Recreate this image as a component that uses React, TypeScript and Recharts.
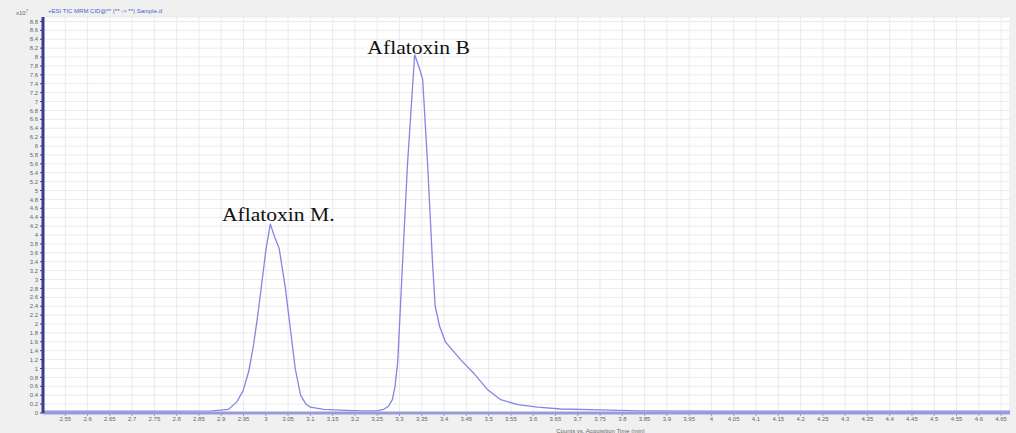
import { CartesianGrid, Label, Line, LineChart, ReferenceDot, XAxis, YAxis } from 'recharts'

// acquisition time (min) and TIC counts (x10^7)
const times = [
  2.5, 2.6, 2.7, 2.8, 2.88, 2.916, 2.935, 2.949, 2.962, 2.972, 2.982, 2.992, 3.0, 3.01, 3.02, 3.03,
  3.044, 3.055, 3.066, 3.078, 3.09, 3.1, 3.13, 3.18, 3.22, 3.25, 3.264, 3.275, 3.284, 3.29, 3.296,
  3.307, 3.318, 3.334, 3.343, 3.352, 3.363, 3.374, 3.38, 3.39, 3.403, 3.437, 3.466, 3.498, 3.527,
  3.565, 3.61, 3.662, 3.75, 3.84, 4.0, 4.2, 4.4, 4.67,
]
const counts = [
  0.04, 0.04, 0.04, 0.04, 0.05, 0.08, 0.25, 0.5, 0.95, 1.5, 2.2, 3.0, 3.65, 4.25, 3.95, 3.7,
  2.8, 1.9, 1.0, 0.4, 0.2, 0.13, 0.08, 0.06, 0.05, 0.05, 0.08, 0.15, 0.3, 0.6, 1.15,
  3.4, 5.6, 8.05, 7.8, 7.5, 5.6, 3.4, 2.4, 1.95, 1.6, 1.2, 0.9, 0.52, 0.3,
  0.19, 0.13, 0.09, 0.07, 0.05, 0.04, 0.04, 0.04, 0.04,
]

const xTicks = [
  2.55, 2.6, 2.65, 2.7, 2.75, 2.8, 2.85, 2.9, 2.95, 3, 3.05, 3.1, 3.15, 3.2, 3.25, 3.3, 3.35, 3.4,
  3.45, 3.5, 3.55, 3.6, 3.65, 3.7, 3.75, 3.8, 3.85, 3.9, 3.95, 4, 4.05, 4.1, 4.15, 4.2, 4.25, 4.3,
  4.35, 4.4, 4.45, 4.5, 4.55, 4.6, 4.65,
]
const yTicks = [
  0, 0.2, 0.4, 0.6, 0.8, 1, 1.2, 1.4, 1.6, 1.8, 2, 2.2, 2.4, 2.6, 2.8, 3, 3.2, 3.4, 3.6, 3.8, 4,
  4.2, 4.4, 4.6, 4.8, 5, 5.2, 5.4, 5.6, 5.8, 6, 6.2, 6.4, 6.6, 6.8, 7, 7.2, 7.4, 7.6, 7.8, 8, 8.2,
  8.4, 8.6, 8.8,
]

const peaks = [
  { name: 'Aflatoxin M.', time: 3.01, count: 4.25, dx: 8, dy: -3 },
  { name: 'Aflatoxin B', time: 3.334, count: 8.05, dx: 4, dy: -1 },
]

const data = times.map((t, i) => ({ t, v: counts[i] }))

const tickStyle = { fontSize: 6, fill: '#666', fontFamily: 'Liberation Sans' }

function PeakLabel(props: any) {
  const { viewBox, value, dx, dy } = props
  const cx = viewBox.x + dx
  const cy = viewBox.y + dy
  return (
    <text
      transform={`translate(${cx},${cy}) scale(1.2,1)`}
      textAnchor="middle"
      fontSize={18}
      fontFamily="Liberation Serif"
      fill="#111"
    >
      {value}
    </text>
  )
}

export default function App() {
  return (
    <div
      style={{
        position: 'absolute',
        left: 0,
        top: 0,
        width: 1016,
        height: 433,
        background: '#f0f0f0',
      }}
    >
      <div
        style={{
          position: 'absolute',
          left: 16,
          top: 8,
          fontSize: 6,
          color: '#666',
          fontFamily: 'Liberation Sans',
        }}
      >
        x10<sup style={{ fontSize: 4 }}>7</sup>
      </div>
      <div
        style={{
          position: 'absolute',
          left: 48,
          top: 8,
          fontSize: 6,
          color: '#4a62c8',
          fontFamily: 'Liberation Sans',
        }}
      >
        +ESI TIC MRM CID@** (** -&gt; **) Sample.d
      </div>
      <LineChart width={1016} height={433} data={data} margin={{ top: 17, right: 6, left: 0, bottom: 0 }}>
        <CartesianGrid fill="#fff" stroke="#ebebf0" strokeWidth={1} />
        <XAxis
          dataKey="t"
          type="number"
          domain={[2.5, 4.67]}
          allowDataOverflow
          ticks={xTicks}
          interval={0}
          height={20}
          tick={tickStyle}
          tickSize={3}
          tickMargin={1}
          stroke="#9a9ad8"
          axisLine={{ stroke: '#9a9ad8', strokeWidth: 3 }}
        >
          <Label
            value="Counts vs. Acquisition Time (min)"
            position="insideBottom"
            offset={0}
            dx={74}
            fontSize={6}
            fill="#666"
            fontFamily="Liberation Sans"
          />
        </XAxis>
        <YAxis
          type="number"
          domain={[0, 8.9]}
          allowDataOverflow
          ticks={yTicks}
          interval={0}
          width={43}
          tick={tickStyle}
          tickSize={3}
          tickMargin={2}
          stroke="#3c3c8c"
          axisLine={{ stroke: '#3c3c8c', strokeWidth: 3 }}
        />
        <Line
          type="linear"
          dataKey="v"
          stroke="#8585e2"
          strokeWidth={1.3}
          dot={false}
          isAnimationActive={false}
        />
        {peaks.map((p) => (
          <ReferenceDot
            key={p.name}
            x={p.time}
            y={p.count}
            r={0}
            stroke="none"
            label={<PeakLabel value={p.name} dx={p.dx} dy={p.dy} />}
          />
        ))}
      </LineChart>
    </div>
  )
}
